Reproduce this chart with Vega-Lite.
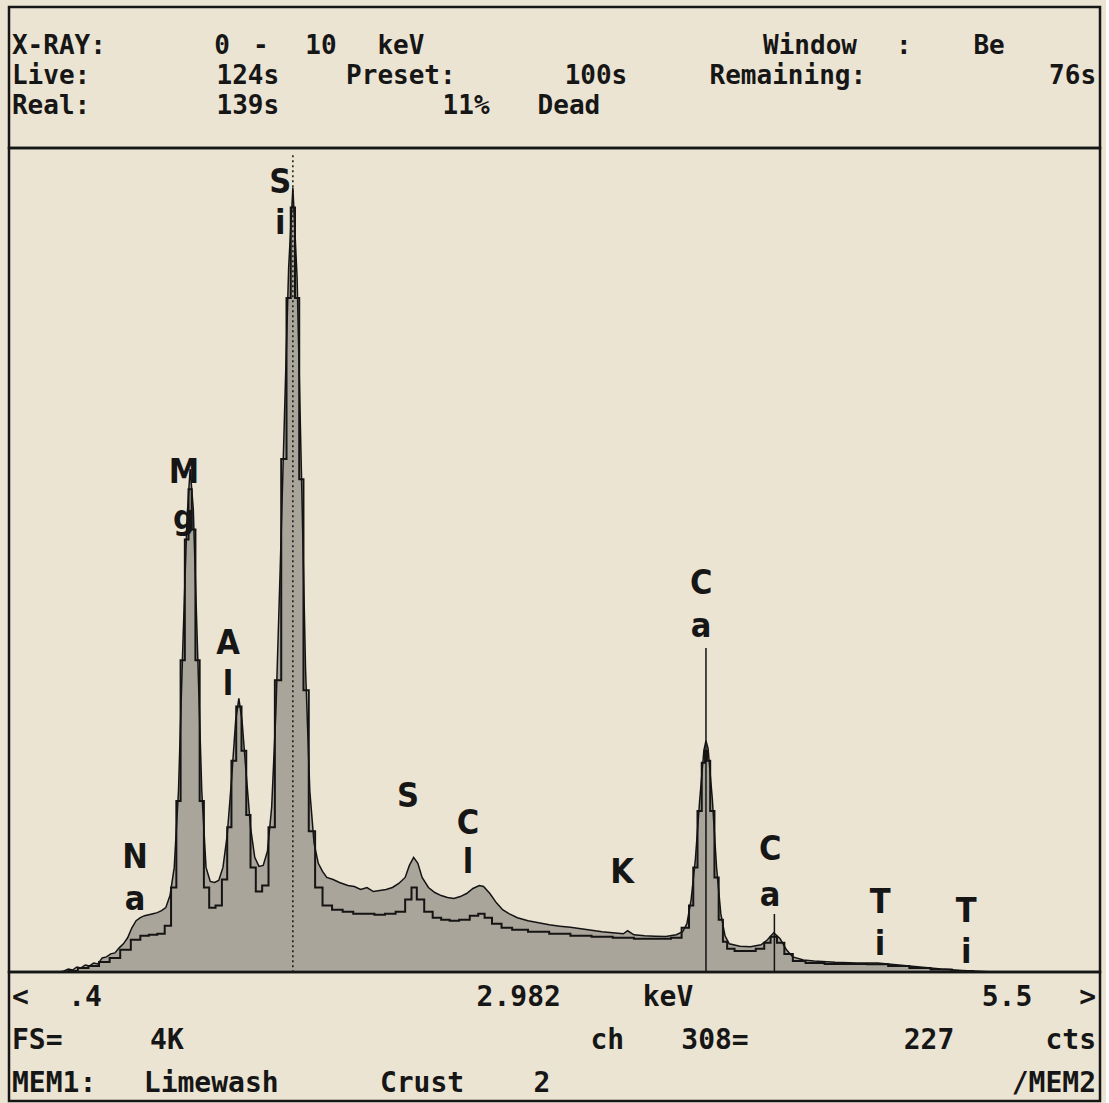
{
  "$schema": "https://vega.github.io/schema/vega-lite/v6.json",
  "background": "#ebe4d3",
  "padding": {"left": 3, "top": 5, "right": 0, "bottom": 0},
  "spacing": 0,
  "bounds": "flush",
  "config": {"view": {"stroke": "#161616", "strokeWidth": 2.5}, "concat": {"spacing": 0}},
  "resolve": {"scale": {"x": "independent", "y": "independent"}},
  "datasets": {
    "header": [
      {"row": 1, "col": 0, "anchor": "left", "t": "X-RAY:"},
      {"row": 1, "col": 8.54, "anchor": "center", "t": "0"},
      {"row": 1, "col": 10.12, "anchor": "center", "t": "-"},
      {"row": 1, "col": 12.56, "anchor": "center", "t": "10"},
      {"row": 1, "col": 15.81, "anchor": "center", "t": "keV"},
      {"row": 1, "col": 32.44, "anchor": "center", "t": "Window"},
      {"row": 1, "col": 36.26, "anchor": "center", "t": ":"},
      {"row": 1, "col": 39.72, "anchor": "center", "t": "Be"},
      {"row": 2, "col": 0, "anchor": "left", "t": "Live:"},
      {"row": 2, "col": 9.59, "anchor": "center", "t": "124s"},
      {"row": 2, "col": 15.81, "anchor": "center", "t": "Preset:"},
      {"row": 2, "col": 23.74, "anchor": "center", "t": "100s"},
      {"row": 2, "col": 31.54, "anchor": "center", "t": "Remaining:"},
      {"row": 2, "col": 44.07, "anchor": "right", "t": "76s"},
      {"row": 3, "col": 0, "anchor": "left", "t": "Real:"},
      {"row": 3, "col": 9.59, "anchor": "center", "t": "139s"},
      {"row": 3, "col": 18.46, "anchor": "center", "t": "11%"},
      {"row": 3, "col": 22.64, "anchor": "center", "t": "Dead"}
    ],
    "footer": [
      {"row": 1, "col": 0, "anchor": "left", "t": "<"},
      {"row": 1, "col": 2.97, "anchor": "center", "t": ".4"},
      {"row": 1, "col": 20.6, "anchor": "center", "t": "2.982"},
      {"row": 1, "col": 26.67, "anchor": "center", "t": "keV"},
      {"row": 1, "col": 40.45, "anchor": "center", "t": "5.5"},
      {"row": 1, "col": 44.07, "anchor": "right", "t": ">"},
      {"row": 2, "col": 0, "anchor": "left", "t": "FS="},
      {"row": 2, "col": 6.3, "anchor": "center", "t": "4K"},
      {"row": 2, "col": 24.2, "anchor": "center", "t": "ch"},
      {"row": 2, "col": 28.58, "anchor": "center", "t": "308="},
      {"row": 2, "col": 37.28, "anchor": "center", "t": "227"},
      {"row": 2, "col": 44.07, "anchor": "right", "t": "cts"},
      {"row": 3, "col": 0, "anchor": "left", "t": "MEM1:"},
      {"row": 3, "col": 8.1, "anchor": "center", "t": "Limewash"},
      {"row": 3, "col": 16.67, "anchor": "center", "t": "Crust"},
      {"row": 3, "col": 21.54, "anchor": "center", "t": "2"},
      {"row": 3, "col": 44.07, "anchor": "right", "t": "/MEM2"}
    ],
    "mem1": [
      {"keV": 0.40, "counts": 0}, {"keV": 0.64, "counts": 0}, {"keV": 0.66, "counts": 5}, {"keV": 0.68, "counts": 15},
      {"keV": 0.70, "counts": 10}, {"keV": 0.72, "counts": 25}, {"keV": 0.74, "counts": 20}, {"keV": 0.76, "counts": 35},
      {"keV": 0.78, "counts": 30}, {"keV": 0.80, "counts": 45}, {"keV": 0.82, "counts": 40}, {"keV": 0.84, "counts": 70},
      {"keV": 0.86, "counts": 75}, {"keV": 0.88, "counts": 90}, {"keV": 0.90, "counts": 95}, {"keV": 0.92, "counts": 120},
      {"keV": 0.94, "counts": 140}, {"keV": 0.96, "counts": 170}, {"keV": 0.98, "counts": 220}, {"keV": 1.00, "counts": 255},
      {"keV": 1.02, "counts": 270}, {"keV": 1.04, "counts": 280}, {"keV": 1.06, "counts": 285}, {"keV": 1.08, "counts": 290},
      {"keV": 1.10, "counts": 295}, {"keV": 1.12, "counts": 305}, {"keV": 1.14, "counts": 320}, {"keV": 1.16, "counts": 380},
      {"keV": 1.18, "counts": 520}, {"keV": 1.20, "counts": 900}, {"keV": 1.22, "counts": 1600}, {"keV": 1.24, "counts": 2250},
      {"keV": 1.255, "counts": 2500}, {"keV": 1.27, "counts": 2300}, {"keV": 1.29, "counts": 1600}, {"keV": 1.31, "counts": 900},
      {"keV": 1.33, "counts": 520}, {"keV": 1.35, "counts": 450}, {"keV": 1.37, "counts": 445}, {"keV": 1.39, "counts": 455},
      {"keV": 1.41, "counts": 520}, {"keV": 1.43, "counts": 680}, {"keV": 1.45, "counts": 950}, {"keV": 1.47, "counts": 1250},
      {"keV": 1.485, "counts": 1360}, {"keV": 1.50, "counts": 1250}, {"keV": 1.52, "counts": 980}, {"keV": 1.54, "counts": 720},
      {"keV": 1.56, "counts": 570}, {"keV": 1.58, "counts": 525}, {"keV": 1.60, "counts": 530}, {"keV": 1.62, "counts": 600},
      {"keV": 1.64, "counts": 820}, {"keV": 1.66, "counts": 1300}, {"keV": 1.68, "counts": 2000}, {"keV": 1.70, "counts": 2750},
      {"keV": 1.72, "counts": 3500}, {"keV": 1.74, "counts": 3900}, {"keV": 1.76, "counts": 3450}, {"keV": 1.78, "counts": 2500},
      {"keV": 1.80, "counts": 1500}, {"keV": 1.82, "counts": 900}, {"keV": 1.84, "counts": 640}, {"keV": 1.86, "counts": 540},
      {"keV": 1.88, "counts": 500}, {"keV": 1.90, "counts": 470}, {"keV": 1.93, "counts": 460}, {"keV": 1.96, "counts": 445},
      {"keV": 2.00, "counts": 430}, {"keV": 2.03, "counts": 425}, {"keV": 2.06, "counts": 410}, {"keV": 2.09, "counts": 420},
      {"keV": 2.12, "counts": 400}, {"keV": 2.15, "counts": 405}, {"keV": 2.18, "counts": 410}, {"keV": 2.21, "counts": 420},
      {"keV": 2.24, "counts": 440}, {"keV": 2.27, "counts": 470}, {"keV": 2.29, "counts": 530}, {"keV": 2.31, "counts": 570},
      {"keV": 2.33, "counts": 540}, {"keV": 2.35, "counts": 470}, {"keV": 2.38, "counts": 420}, {"keV": 2.41, "counts": 395},
      {"keV": 2.44, "counts": 380}, {"keV": 2.47, "counts": 370}, {"keV": 2.50, "counts": 365}, {"keV": 2.53, "counts": 375},
      {"keV": 2.56, "counts": 390}, {"keV": 2.59, "counts": 415}, {"keV": 2.62, "counts": 430}, {"keV": 2.64, "counts": 425},
      {"keV": 2.67, "counts": 390}, {"keV": 2.70, "counts": 345}, {"keV": 2.73, "counts": 310}, {"keV": 2.76, "counts": 290},
      {"keV": 2.80, "counts": 270}, {"keV": 2.85, "counts": 255}, {"keV": 2.90, "counts": 245}, {"keV": 2.95, "counts": 235},
      {"keV": 3.00, "counts": 228}, {"keV": 3.05, "counts": 222}, {"keV": 3.10, "counts": 215}, {"keV": 3.15, "counts": 208},
      {"keV": 3.20, "counts": 200}, {"keV": 3.25, "counts": 195}, {"keV": 3.30, "counts": 190}, {"keV": 3.32, "counts": 205},
      {"keV": 3.35, "counts": 185}, {"keV": 3.40, "counts": 180}, {"keV": 3.45, "counts": 178}, {"keV": 3.50, "counts": 176},
      {"keV": 3.55, "counts": 185}, {"keV": 3.58, "counts": 200}, {"keV": 3.60, "counts": 240}, {"keV": 3.62, "counts": 360},
      {"keV": 3.64, "counts": 560}, {"keV": 3.66, "counts": 850}, {"keV": 3.68, "counts": 1100}, {"keV": 3.69, "counts": 1150},
      {"keV": 3.70, "counts": 1110}, {"keV": 3.72, "counts": 860}, {"keV": 3.74, "counts": 520}, {"keV": 3.76, "counts": 290},
      {"keV": 3.78, "counts": 180}, {"keV": 3.80, "counts": 140}, {"keV": 3.85, "counts": 128}, {"keV": 3.90, "counts": 125},
      {"keV": 3.95, "counts": 135}, {"keV": 3.98, "counts": 160}, {"keV": 4.01, "counts": 195}, {"keV": 4.04, "counts": 165},
      {"keV": 4.07, "counts": 110}, {"keV": 4.10, "counts": 75}, {"keV": 4.15, "counts": 60}, {"keV": 4.20, "counts": 55},
      {"keV": 4.30, "counts": 48}, {"keV": 4.40, "counts": 45}, {"keV": 4.50, "counts": 45}, {"keV": 4.55, "counts": 40},
      {"keV": 4.60, "counts": 35}, {"keV": 4.70, "counts": 25}, {"keV": 4.80, "counts": 15}, {"keV": 4.90, "counts": 8},
      {"keV": 5.00, "counts": 2}, {"keV": 5.05, "counts": 0}, {"keV": 5.55, "counts": 0}
    ],
    "mem2": [
      {"keV": 0.40, "counts": 0}, {"keV": 0.66, "counts": 0}, {"keV": 0.70, "counts": 5}, {"keV": 0.75, "counts": 20},
      {"keV": 0.80, "counts": 30}, {"keV": 0.85, "counts": 50}, {"keV": 0.90, "counts": 70}, {"keV": 0.95, "counts": 110},
      {"keV": 1.00, "counts": 160}, {"keV": 1.04, "counts": 180}, {"keV": 1.08, "counts": 185}, {"keV": 1.12, "counts": 190},
      {"keV": 1.15, "counts": 230}, {"keV": 1.18, "counts": 420}, {"keV": 1.20, "counts": 850}, {"keV": 1.22, "counts": 1550},
      {"keV": 1.24, "counts": 2150}, {"keV": 1.255, "counts": 2400}, {"keV": 1.27, "counts": 2200}, {"keV": 1.29, "counts": 1550},
      {"keV": 1.31, "counts": 850}, {"keV": 1.33, "counts": 420}, {"keV": 1.36, "counts": 320}, {"keV": 1.39, "counts": 330},
      {"keV": 1.42, "counts": 460}, {"keV": 1.44, "counts": 720}, {"keV": 1.46, "counts": 1050}, {"keV": 1.485, "counts": 1320},
      {"keV": 1.51, "counts": 1100}, {"keV": 1.53, "counts": 780}, {"keV": 1.55, "counts": 520}, {"keV": 1.58, "counts": 400},
      {"keV": 1.61, "counts": 430}, {"keV": 1.64, "counts": 720}, {"keV": 1.67, "counts": 1450}, {"keV": 1.70, "counts": 2550},
      {"keV": 1.72, "counts": 3350}, {"keV": 1.74, "counts": 3800}, {"keV": 1.76, "counts": 3350}, {"keV": 1.78, "counts": 2450},
      {"keV": 1.80, "counts": 1400}, {"keV": 1.83, "counts": 700}, {"keV": 1.86, "counts": 420}, {"keV": 1.90, "counts": 330},
      {"keV": 1.95, "counts": 310}, {"keV": 2.00, "counts": 300}, {"keV": 2.05, "counts": 290}, {"keV": 2.10, "counts": 290},
      {"keV": 2.15, "counts": 285}, {"keV": 2.20, "counts": 290}, {"keV": 2.25, "counts": 300}, {"keV": 2.29, "counts": 360},
      {"keV": 2.31, "counts": 420}, {"keV": 2.34, "counts": 360}, {"keV": 2.38, "counts": 300}, {"keV": 2.42, "counts": 270},
      {"keV": 2.46, "counts": 260}, {"keV": 2.50, "counts": 255}, {"keV": 2.55, "counts": 260}, {"keV": 2.60, "counts": 280},
      {"keV": 2.63, "counts": 290}, {"keV": 2.66, "counts": 270}, {"keV": 2.70, "counts": 240}, {"keV": 2.75, "counts": 220},
      {"keV": 2.80, "counts": 210}, {"keV": 2.90, "counts": 200}, {"keV": 3.00, "counts": 190}, {"keV": 3.10, "counts": 180},
      {"keV": 3.20, "counts": 175}, {"keV": 3.30, "counts": 170}, {"keV": 3.40, "counts": 165}, {"keV": 3.50, "counts": 165},
      {"keV": 3.55, "counts": 170}, {"keV": 3.60, "counts": 220}, {"keV": 3.62, "counts": 330}, {"keV": 3.64, "counts": 520},
      {"keV": 3.66, "counts": 800}, {"keV": 3.68, "counts": 1040}, {"keV": 3.69, "counts": 1100}, {"keV": 3.70, "counts": 1050},
      {"keV": 3.72, "counts": 800}, {"keV": 3.74, "counts": 470}, {"keV": 3.76, "counts": 260}, {"keV": 3.78, "counts": 150},
      {"keV": 3.80, "counts": 115}, {"keV": 3.85, "counts": 105}, {"keV": 3.90, "counts": 105}, {"keV": 3.95, "counts": 115},
      {"keV": 3.98, "counts": 145}, {"keV": 4.01, "counts": 175}, {"keV": 4.04, "counts": 145}, {"keV": 4.08, "counts": 90},
      {"keV": 4.12, "counts": 55}, {"keV": 4.20, "counts": 45}, {"keV": 4.30, "counts": 40}, {"keV": 4.40, "counts": 40},
      {"keV": 4.50, "counts": 38}, {"keV": 4.60, "counts": 30}, {"keV": 4.70, "counts": 20}, {"keV": 4.80, "counts": 12},
      {"keV": 4.90, "counts": 5}, {"keV": 5.00, "counts": 0}, {"keV": 5.55, "counts": 0}
    ],
    "markers": [
      {"keV": 1.74, "top": 4060, "bottom": 0, "kind": "dotted"},
      {"keV": 3.69, "top": 1610, "bottom": 0, "kind": "solid"},
      {"keV": 4.013, "top": 288, "bottom": 0, "kind": "solid"}
    ],
    "labels": [
      {"keV": 0.995, "counts": 567, "t": "N"}, {"keV": 0.995, "counts": 358, "t": "a"},
      {"keV": 1.226, "counts": 2480, "t": "M"}, {"keV": 1.226, "counts": 2252, "t": "g"},
      {"keV": 1.434, "counts": 1630, "t": "A"}, {"keV": 1.434, "counts": 1427, "t": "l"},
      {"keV": 1.68, "counts": 3922, "t": "S"}, {"keV": 1.68, "counts": 3718, "t": "i"},
      {"keV": 2.284, "counts": 870, "t": "S"},
      {"keV": 2.567, "counts": 736, "t": "C"}, {"keV": 2.567, "counts": 542, "t": "l"},
      {"keV": 3.294, "counts": 492, "t": "K"},
      {"keV": 3.667, "counts": 1929, "t": "C"}, {"keV": 3.667, "counts": 1715, "t": "a"},
      {"keV": 3.993, "counts": 606, "t": "C"}, {"keV": 3.993, "counts": 378, "t": "a"},
      {"keV": 4.512, "counts": 343, "t": "T"}, {"keV": 4.512, "counts": 134, "t": "i"},
      {"keV": 4.918, "counts": 298, "t": "T"}, {"keV": 4.918, "counts": 94, "t": "i"}
    ]
  },
  "vconcat": [
    {
      "width": 1091,
      "height": 141,
      "data": {"name": "header"},
      "encoding": {
        "x": {"field": "col", "type": "quantitative", "scale": {"domain": [-0.12, 44.23], "nice": false, "zero": false}, "axis": null},
        "y": {"field": "row", "type": "quantitative", "scale": {"domain": [4.4, -0.3], "nice": false, "zero": false}, "axis": null},
        "text": {"field": "t"}
      },
      "layer": [
        {"transform": [{"filter": "datum.anchor === 'left'"}], "mark": {"type": "text", "align": "left", "baseline": "middle", "font": "DejaVu Sans Mono", "fontSize": 26, "fontWeight": "bold", "color": "#161616"}},
        {"transform": [{"filter": "datum.anchor === 'center'"}], "mark": {"type": "text", "align": "center", "baseline": "middle", "font": "DejaVu Sans Mono", "fontSize": 26, "fontWeight": "bold", "color": "#161616"}},
        {"transform": [{"filter": "datum.anchor === 'right'"}], "mark": {"type": "text", "align": "right", "baseline": "middle", "font": "DejaVu Sans Mono", "fontSize": 26, "fontWeight": "bold", "color": "#161616"}}
      ]
    },
    {
      "width": 1091,
      "height": 824,
      "layer": [
        {
          "data": {"name": "mem1"},
          "mark": {"type": "area", "color": "#8e8a82", "line": {"color": "#141414", "strokeWidth": 1.5}},
          "encoding": {
            "x": {"field": "keV", "type": "quantitative", "scale": {"domain": [0.4, 5.55], "nice": false, "zero": false}, "axis": null},
            "y": {"field": "counts", "type": "quantitative", "scale": {"domain": [0, 4096], "nice": false}, "axis": null}
          }
        },
        {
          "data": {"name": "mem2"},
          "mark": {"type": "line", "color": "#141414", "strokeWidth": 2, "interpolate": "step"},
          "encoding": {
            "x": {"field": "keV", "type": "quantitative"},
            "y": {"field": "counts", "type": "quantitative"}
          }
        },
        {
          "data": {"name": "markers"},
          "mark": {"type": "rule", "color": "#141414", "strokeWidth": 1.5},
          "encoding": {
            "x": {"field": "keV", "type": "quantitative"},
            "y": {"field": "top", "type": "quantitative"},
            "y2": {"field": "bottom"},
            "strokeDash": {"field": "kind", "type": "nominal", "scale": {"domain": ["solid", "dotted"], "range": [[1, 0], [2, 3]]}, "legend": null}
          }
        },
        {
          "data": {"name": "labels"},
          "mark": {"type": "text", "align": "center", "baseline": "middle", "font": "Liberation Sans Narrow, DejaVu Sans Condensed, DejaVu Sans Mono", "fontSize": 34, "fontWeight": "bold", "color": "#161616"},
          "encoding": {
            "x": {"field": "keV", "type": "quantitative"},
            "y": {"field": "counts", "type": "quantitative"},
            "text": {"field": "t"}
          }
        }
      ]
    },
    {
      "width": 1091,
      "height": 129,
      "data": {"name": "footer"},
      "encoding": {
        "x": {"field": "col", "type": "quantitative", "scale": {"domain": [-0.12, 44.23], "nice": false, "zero": false}, "axis": null},
        "y": {"field": "row", "type": "quantitative", "scale": {"domain": [3.395, 0.395], "nice": false, "zero": false}, "axis": null},
        "text": {"field": "t"}
      },
      "layer": [
        {"transform": [{"filter": "datum.anchor === 'left'"}], "mark": {"type": "text", "align": "left", "baseline": "middle", "font": "DejaVu Sans Mono", "fontSize": 28, "fontWeight": "bold", "color": "#161616"}},
        {"transform": [{"filter": "datum.anchor === 'center'"}], "mark": {"type": "text", "align": "center", "baseline": "middle", "font": "DejaVu Sans Mono", "fontSize": 28, "fontWeight": "bold", "color": "#161616"}},
        {"transform": [{"filter": "datum.anchor === 'right'"}], "mark": {"type": "text", "align": "right", "baseline": "middle", "font": "DejaVu Sans Mono", "fontSize": 28, "fontWeight": "bold", "color": "#161616"}}
      ]
    }
  ]
}
